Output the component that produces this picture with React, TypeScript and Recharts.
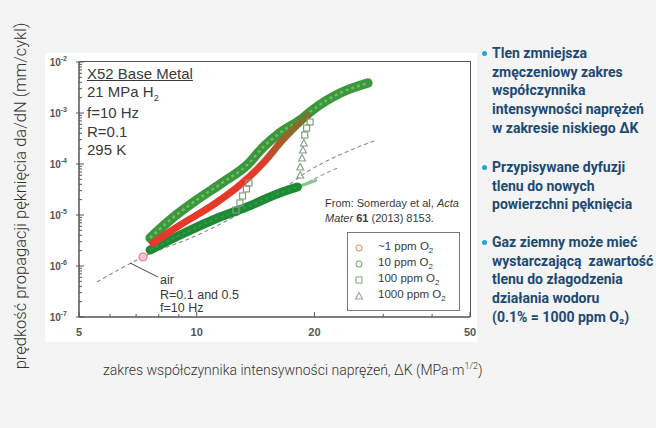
import React from 'react';
import { ComposedChart, Line, XAxis, YAxis } from 'recharts';

// crack growth data (dK in MPa*m^1/2, da/dN in mm/cycle)
const upperK = [7.6, 8.55, 10.0, 11.7, 13.45, 14.8, 16.3, 18.7, 19.8, 23.3, 27.4];
const upperRate = [3.54e-6, 7.98e-6, 1.97e-5, 4.44e-5, 9.55e-5, 2.15e-4, 4.05e-4, 7.98e-4, 1.15e-3, 2.47e-3, 3.87e-3];

const redK = [7.6, 9.07, 11.0, 12.9, 14.8, 16.6, 19.5];
const redRate = [2.58e-6, 6.37e-6, 1.57e-5, 3.87e-5, 1.05e-4, 2.96e-4, 1.0e-3];

const lowerK = [7.6, 9.07, 11.0, 13.45, 16.3, 18.1];
const lowerRate = [2.06e-6, 4.05e-6, 7.98e-6, 1.44e-5, 2.7e-5, 3.54e-5];

const tailK = [18.1, 20.3];
const tailRate = [3.54e-5, 4.85e-5];

const ppm100K = [12.6, 12.9, 13.1, 13.4, 13.6, 18.9, 19.1, 19.5];
const ppm100Rate = [1.25e-5, 1.72e-5, 2.36e-5, 3.24e-5, 4.24e-5, 3.7e-4, 5.08e-4, 6.67e-4];

const ppm1000K = [18.4, 18.4, 18.6, 18.7, 18.8];
const ppm1000Rate = [6.08e-5, 8.73e-5, 1.31e-4, 1.88e-4, 2.58e-4];

const airK = [5.56, 7.29, 10.2, 13.7, 16.6, 19.5, 22.9, 28.9];
const airRate = [4.85e-7, 1.5e-6, 4.24e-6, 1.37e-5, 3.24e-5, 7.63e-5, 1.44e-4, 2.96e-4];

const air05K = [17.3, 19.7, 22.9];
const air05Rate = [2.82e-5, 4.85e-5, 8.35e-5];

const pointerK = [6.75, 7.96];
const pointerRate = [1.15e-6, 6.08e-7];

const startK = [7.29];
const startRate = [1.5e-6];

const xTicks = [5, 6, 7, 8, 9, 10, 20, 30, 40, 50];
const xLabels = [5, 10, 20, 50];
const yMajor = [1e-7, 1e-6, 1e-5, 1e-4, 1e-3, 1e-2];
const yMinorSteps = [2, 3, 4, 5, 6, 7, 8, 9];
const yTicks = [
  ...yMajor,
  ...yMajor.slice(0, -1).flatMap((d) => yMinorSteps.map((s) => d * s)),
];

const legendItems = ['~1 ppm', '10 ppm', '100 ppm', '1000 ppm'];

const toPoints = (ks: number[], vs: number[]) => ks.map((k, i) => ({ k, v: vs[i] }));

const PLOT_LEFT = 79;
const PLOT_BOTTOM = 317;

const YTick = (props: any) => {
  const { y, payload } = props;
  const lg = Math.log10(payload.value);
  const exp = Math.round(lg);
  const major = Math.abs(lg - exp) < 1e-6;
  return (
    <g>
      <line x1={PLOT_LEFT - (major ? 3 : 0)} x2={PLOT_LEFT + (major ? 5 : 3)} y1={y} y2={y} stroke="#555" strokeWidth={1} />
      {major && (
        <text x={67} y={y + 4} textAnchor="end" fontSize={10} fill="#555" fontFamily="Arial, 'Liberation Sans', sans-serif" fontWeight={700}>
          10<tspan dy={-5} fontSize={7}>{exp}</tspan>
        </text>
      )}
    </g>
  );
};

const XTick = (props: any) => {
  const { x, payload } = props;
  const major = xLabels.includes(payload.value);
  return (
    <g>
      <line x1={x} x2={x} y1={PLOT_BOTTOM} y2={PLOT_BOTTOM - (major ? 5 : 3)} stroke="#555" strokeWidth={1} />
      {major && (
        <text x={x} y={336} textAnchor="middle" fontSize={11} fill="#555" fontFamily="Arial, 'Liberation Sans', sans-serif" fontWeight={700}>
          {payload.value}
        </text>
      )}
    </g>
  );
};

const squareDot = (p: any) => (
  <rect key={p.index} x={p.cx - 3} y={p.cy - 3} width={6} height={6} fill="none" stroke="#7fa07f" strokeWidth={1.2} />
);

const triangleDot = (p: any) => (
  <path key={p.index} d={`M${p.cx},${p.cy - 3.5}L${p.cx + 3.5},${p.cy + 3}L${p.cx - 3.5},${p.cy + 3}Z`} fill="none" stroke="#8a9a8a" strokeWidth={1.1} />
);

const startDot = (p: any) => (
  <circle key={p.index} cx={p.cx} cy={p.cy} r={4} fill="#f7c6cf" stroke="#e27a8c" strokeWidth={1.2} />
);

const chartFont = "Arial, 'Liberation Sans', sans-serif";

const LegendSymbol = ({ i }: { i: number }) => {
  if (i === 0) return <svg width={10} height={10}><circle cx={5} cy={5} r={3} fill="none" stroke="#d9a36a" strokeWidth={1.1} /></svg>;
  if (i === 1) return <svg width={10} height={10}><circle cx={5} cy={5} r={3} fill="none" stroke="#7fb07f" strokeWidth={1.1} /></svg>;
  if (i === 2) return <svg width={10} height={10}><rect x={2} y={2} width={6} height={6} fill="none" stroke="#8fa88f" strokeWidth={1.1} /></svg>;
  return <svg width={10} height={10}><path d="M5,1.5L8.5,8L1.5,8Z" fill="none" stroke="#9aa89a" strokeWidth={1.1} /></svg>;
};

const bulletStyle: React.CSSProperties = {
  position: 'absolute',
  left: 492,
  fontFamily: 'Roboto, sans-serif',
  fontWeight: 700,
  fontSize: 14,
  lineHeight: '18.7px',
  color: '#1d4a72',
  whiteSpace: 'pre',
};

const noteStyle: React.CSSProperties = {
  position: 'absolute',
  left: 87,
  fontFamily: chartFont,
  fontSize: 15,
  color: '#3a3a3a',
  lineHeight: '16px',
  whiteSpace: 'nowrap',
};

const Dot = ({ top }: { top: number }) => (
  <div style={{ position: 'absolute', left: 482, top, width: 5, height: 5, borderRadius: 3, background: '#1fa5d6' }} />
);

export default function App() {
  return (
    <div style={{ position: 'absolute', left: 0, top: 0, width: 656, height: 428, background: '#f4f4f4', overflow: 'hidden' }}>
      <div style={{ position: 'absolute', left: 45, top: 53, width: 432, height: 289, background: '#fff' }} />
      <div style={{ position: 'absolute', left: 0, top: 0 }}>
        <ComposedChart width={656} height={428} margin={{ top: 62, right: 186, bottom: 81, left: 39 }}>
          <defs>
            <linearGradient id="redBand" x1="0" y1="0" x2="1" y2="0">
              <stop offset="0%" stopColor="#e8382b" />
              <stop offset="68%" stopColor="#e43a27" />
              <stop offset="88%" stopColor="#8c6a2c" />
              <stop offset="100%" stopColor="#6f7a2e" />
            </linearGradient>
          </defs>
          <XAxis
            type="number"
            dataKey="k"
            scale="log"
            domain={[5, 50]}
            allowDataOverflow
            ticks={xTicks}
            interval={0}
            tick={<XTick />}
            tickLine={false}
            axisLine={{ stroke: '#555', strokeWidth: 1.5 }}
            height={30}
          />
          <YAxis
            type="number"
            dataKey="v"
            scale="log"
            domain={[1e-7, 1e-2]}
            allowDataOverflow
            ticks={yTicks}
            interval={0}
            tick={<YTick />}
            tickLine={false}
            axisLine={{ stroke: '#555', strokeWidth: 1.5 }}
            width={40}
          />
          <Line data={toPoints(airK, airRate)} dataKey="v" type="monotone" stroke="#888" strokeWidth={1.1} strokeDasharray="4 3" dot={false} isAnimationActive={false} />
          <Line data={toPoints(air05K, air05Rate)} dataKey="v" type="monotone" stroke="#999" strokeWidth={1.1} strokeDasharray="4 3" dot={false} isAnimationActive={false} />
          <Line data={toPoints(tailK, tailRate)} dataKey="v" type="linear" stroke="#8cc68c" strokeWidth={3} dot={false} isAnimationActive={false} />
          <Line data={toPoints(lowerK, lowerRate)} dataKey="v" type="monotone" stroke="#1f8a36" strokeWidth={9} strokeLinecap="round" dot={false} isAnimationActive={false} />
          <Line data={toPoints(lowerK, lowerRate)} dataKey="v" type="monotone" stroke="#2f9a46" strokeWidth={2} strokeDasharray="3 3" dot={false} isAnimationActive={false} />
          <Line data={toPoints(upperK, upperRate)} dataKey="v" type="monotone" stroke="#3a983a" strokeWidth={9.5} strokeLinecap="round" dot={false} isAnimationActive={false} />
          <Line data={toPoints(upperK, upperRate)} dataKey="v" type="monotone" stroke="#6fb86f" strokeWidth={2.5} strokeDasharray="3 3" dot={false} isAnimationActive={false} />
          <Line data={toPoints(redK, redRate)} dataKey="v" type="monotone" stroke="url(#redBand)" strokeWidth={7} dot={false} isAnimationActive={false} />
          <Line data={toPoints(ppm100K, ppm100Rate)} dataKey="v" stroke="none" dot={squareDot} isAnimationActive={false} />
          <Line data={toPoints(ppm1000K, ppm1000Rate)} dataKey="v" stroke="none" dot={triangleDot} isAnimationActive={false} />
          <Line data={toPoints(startK, startRate)} dataKey="v" stroke="none" dot={startDot} isAnimationActive={false} />
          <Line data={toPoints(pointerK, pointerRate)} dataKey="v" type="linear" stroke="#444" strokeWidth={1} dot={false} isAnimationActive={false} />
        </ComposedChart>
      </div>

      {/* top and right frame of the plot */}
      <div style={{ position: 'absolute', left: 79, top: 61, width: 392, height: 256, borderTop: '1.5px solid #555', borderRight: '1.5px solid #555', boxSizing: 'border-box' }} />

      {/* annotations inside the plot */}
      <div style={{ ...noteStyle, top: 66, textDecoration: 'underline' }}>X52 Base Metal</div>
      <div style={{ ...noteStyle, top: 84 }}>21 MPa H<sub style={{ fontSize: 9 }}>2</sub></div>
      <div style={{ ...noteStyle, top: 105 }}>f=10 Hz</div>
      <div style={{ ...noteStyle, top: 124 }}>R=0.1</div>
      <div style={{ ...noteStyle, top: 142 }}>295 K</div>

      <div style={{ position: 'absolute', left: 160, top: 273, fontFamily: chartFont, fontSize: 12.5, color: '#3a3a3a', lineHeight: '14px' }}>air</div>
      <div style={{ position: 'absolute', left: 160, top: 288, fontFamily: chartFont, fontSize: 12.5, color: '#3a3a3a', lineHeight: '14px' }}>R=0.1 and 0.5</div>
      <div style={{ position: 'absolute', left: 160, top: 301, fontFamily: chartFont, fontSize: 12.5, color: '#3a3a3a', lineHeight: '14px' }}>f=10 Hz</div>

      <div style={{ position: 'absolute', left: 325, top: 196, fontFamily: chartFont, fontSize: 11, color: '#3a3a3a', lineHeight: '14px', whiteSpace: 'nowrap' }}>From: Somerday et al, <i>Acta</i></div>
      <div style={{ position: 'absolute', left: 325, top: 211, fontFamily: chartFont, fontSize: 11, color: '#3a3a3a', lineHeight: '14px', whiteSpace: 'nowrap' }}><i>Mater</i> <b>61</b> (2013) 8153.</div>

      <div style={{ position: 'absolute', left: 347, top: 232, width: 113, height: 79, border: '1px solid #777', boxSizing: 'border-box', background: '#fff' }}>
        {legendItems.map((label, i) => (
          <div key={label} style={{ position: 'absolute', left: 6, top: 7 + i * 16, height: 16, display: 'flex', alignItems: 'center', fontFamily: chartFont, fontSize: 11.5, color: '#3a3a3a', whiteSpace: 'nowrap' }}>
            <LegendSymbol i={i} />
            <span style={{ marginLeft: 14 }}>{label} O<sub style={{ fontSize: 8 }}>2</sub></span>
          </div>
        ))}
      </div>

      {/* axis titles */}
      <div style={{ position: 'absolute', left: 21 - 200, top: 196 - 10, width: 400, height: 20, lineHeight: '20px', textAlign: 'center', transform: 'rotate(-90deg)', fontFamily: 'Roboto, sans-serif', fontWeight: 300, fontSize: 16.5, color: '#333', whiteSpace: 'nowrap' }}>
        prędkość propagacji pęknięcia da/dN (mm/cykl)
      </div>
      <div style={{ position: 'absolute', left: 103, top: 357, lineHeight: '18px', fontFamily: 'Roboto, sans-serif', fontWeight: 300, fontSize: 14, color: '#333', whiteSpace: 'nowrap' }}>
        zakres współczynnika intensywności naprężeń, ΔK (MPa·m<sup style={{ fontSize: 9 }}>1/2</sup>)
      </div>

      {/* bullet notes */}
      <Dot top={51} />
      <div style={{ ...bulletStyle, top: 44 }}>{'Tlen zmniejsza\nzmęczeniowy zakres\nwspółczynnika\nintensywności naprężeń\nw zakresie niskiego ΔK'}</div>
      <Dot top={165} />
      <div style={{ ...bulletStyle, top: 158 }}>{'Przypisywane dyfuzji\ntlenu do nowych\npowierzchni pęknięcia'}</div>
      <Dot top={240} />
      <div style={{ ...bulletStyle, top: 233 }}>{'Gaz ziemny może mieć\nwystarczającą  zawartość\ntlenu do złagodzenia\ndziałania wodoru\n(0.1% = 1000 ppm O₂)'}</div>
    </div>
  );
}
